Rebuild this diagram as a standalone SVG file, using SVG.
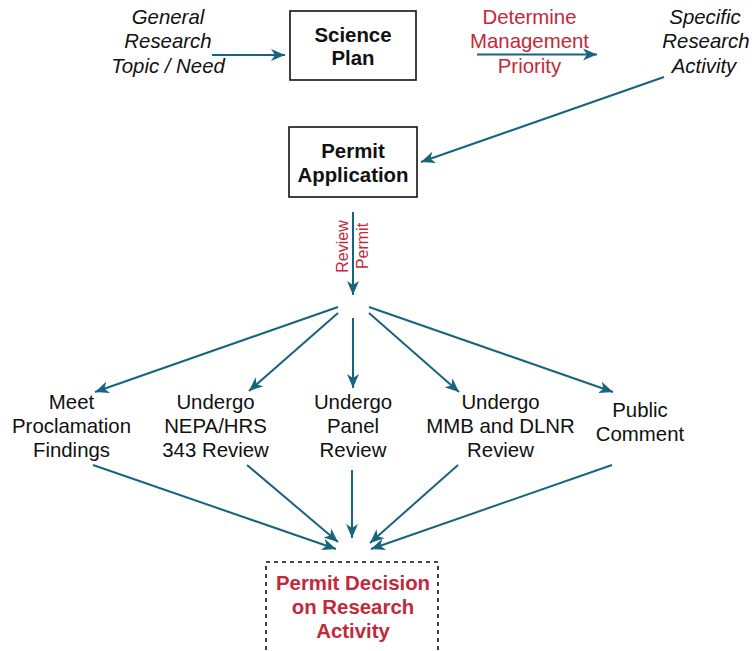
<svg xmlns="http://www.w3.org/2000/svg" width="752" height="651" viewBox="0 0 752 651">
<style>
text{font-family:"Liberation Sans",Arial,Helvetica,sans-serif;font-size:20.4px;text-anchor:middle;fill:#111}
.b{font-weight:bold}
.i{font-style:italic}
.r{fill:#c4283b}
.box{fill:none;stroke:#111;stroke-width:1.6}
.dash{fill:none;stroke:#111;stroke-width:1.6;stroke-dasharray:4 4}
.c line{stroke:#16647f;stroke-width:2;marker-end:url(#ah)}
</style>
<defs>
<marker id="ah" markerUnits="userSpaceOnUse" markerWidth="15" markerHeight="13" viewBox="-14 -6.5 15 13" refX="0" refY="0" orient="auto">
<path d="M0,0 L-14,-6 L-10,0 L-14,6 Z" fill="#16647f"/>
</marker>
</defs>
<g id="general"><text class="i" x="168" y="24">General</text><text class="i" x="168" y="48">Research</text><text class="i" x="168" y="73">Topic / Need</text></g>
<g id="science-plan"><rect class="box" x="290" y="11" width="126" height="69"/><text class="b" x="353" y="42">Science</text><text class="b" x="353" y="65">Plan</text></g>
<g id="determine"><text class="r" x="529.5" y="24">Determine</text><text class="r" x="529.5" y="48">Management</text><text class="r" x="529.5" y="73">Priority</text></g>
<g id="specific"><text class="i" x="705" y="24">Specific</text><text class="i" x="706" y="48">Research</text><text class="i" x="704" y="73">Activity</text></g>
<g id="permit-application"><rect class="box" x="289" y="127" width="128" height="70"/><text class="b" x="353" y="158">Permit</text><text class="b" x="353" y="182">Application</text></g>
<g id="review-permit"><text class="r" style="font-size:16px" transform="translate(348,246.5) rotate(-90)">Review</text><text class="r" style="font-size:16px" transform="translate(368,246) rotate(-90)">Permit</text></g>
<g id="meet"><text x="71.5" y="409">Meet</text><text x="71.5" y="433">Proclamation</text><text x="71.5" y="457">Findings</text></g>
<g id="nepa"><text x="215.5" y="409">Undergo</text><text x="215.5" y="433">NEPA/HRS</text><text x="215.5" y="457">343 Review</text></g>
<g id="panel"><text x="353" y="409">Undergo</text><text x="353" y="433">Panel</text><text x="353" y="457">Review</text></g>
<g id="mmb"><text x="500.5" y="409">Undergo</text><text x="500.5" y="433">MMB and DLNR</text><text x="500.5" y="457">Review</text></g>
<g id="public"><text x="640" y="417">Public</text><text x="640" y="441">Comment</text></g>
<g id="decision"><rect class="dash" x="266" y="562" width="172" height="100"/><text class="b r" x="353" y="590">Permit Decision</text><text class="b r" x="353" y="614">on Research</text><text class="b r" x="353" y="638">Activity</text></g>
<g id="connectors" class="c">
<line x1="212" y1="55" x2="285" y2="55"/>
<line x1="477" y1="54.5" x2="597" y2="54.5"/>
<line x1="664" y1="77" x2="421" y2="162"/>
<line x1="353" y1="212" x2="353" y2="295"/>
<line x1="338" y1="307" x2="95" y2="392"/>
<line x1="338" y1="313" x2="249" y2="391"/>
<line x1="353" y1="318" x2="353" y2="388"/>
<line x1="369" y1="313" x2="459" y2="392"/>
<line x1="369" y1="307" x2="613" y2="392"/>
<line x1="93" y1="465" x2="336" y2="549"/>
<line x1="247" y1="465" x2="338" y2="542"/>
<line x1="352" y1="470" x2="352" y2="538"/>
<line x1="458" y1="465" x2="370" y2="543"/>
<line x1="612" y1="465" x2="371" y2="549"/>
</g>
</svg>
